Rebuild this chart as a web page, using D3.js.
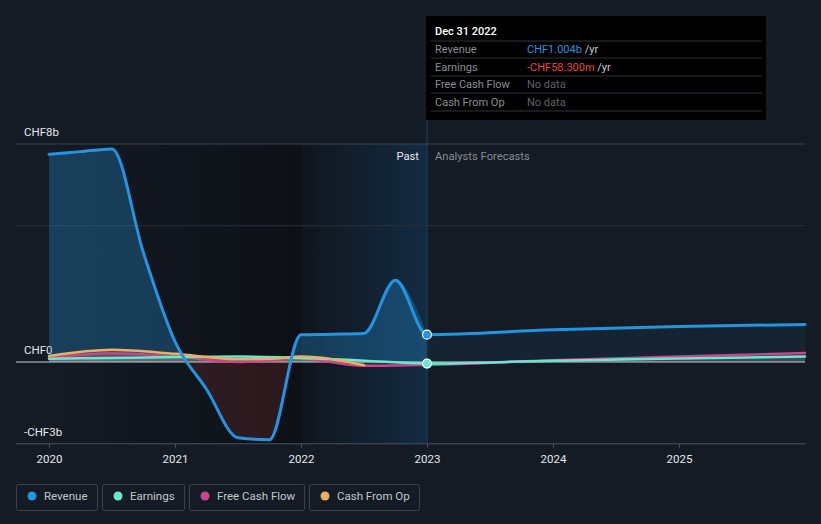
<!DOCTYPE html>
<html>
<head>
<meta charset="utf-8">
<script src="https://cdn.jsdelivr.net/npm/d3@7/dist/d3.min.js"></script>
<style>
html,body{margin:0;padding:0;background:#151b24;}
svg{display:block;font-family:Roboto,"Noto Sans",sans-serif;}
</style>
</head>
<body>
<svg id="chart" width="821" height="524"></svg>
<script>
// ---- data (CHF billions) ----
const revYears = [2020, 2020.25, 2020.5, 2020.75, 2021, 2021.25, 2021.5, 2021.75, 2022, 2022.25, 2022.5, 2022.75, 2023, 2024, 2025, 2026];
const revenue  = [7.62, 7.72, 7.82, 4.0, 0.75, -1.0, -2.78, -2.85, 1.0, 1.02, 1.05, 3.0, 1.004, 1.18, 1.3, 1.38];
const earnYears = [2020, 2020.5, 2021, 2021.5, 2022, 2022.5, 2023, 2024, 2025, 2026];
const earnings  = [0.12, 0.15, 0.18, 0.2, 0.15, 0.05, -0.058, 0.05, 0.13, 0.2];
const fcfYears = [2020, 2020.5, 2021, 2021.5, 2022, 2022.5, 2023, 2024, 2025, 2026];
const fcf      = [0.15, 0.32, 0.2, 0.0, 0.12, -0.14, -0.1, 0.06, 0.2, 0.33];
const cfoYears = [2020, 2020.5, 2021, 2021.5, 2021.75, 2022, 2022.5];
const cfo      = [0.22, 0.45, 0.3, 0.1, 0.12, 0.2, -0.12];
const xTickYears = [2020, 2021, 2022, 2023, 2024, 2025];
const yLabelValues = [8, 0, -3];
const yLabels = ["CHF8b", "CHF0", "-CHF3b"];
const gridValues = [8, 5];
const legendNames = ["Revenue", "Earnings", "Free Cash Flow", "Cash From Op"];
const colors = ["#2394df", "#6ee6cf", "#c4488a", "#e9b064"];
const tooltipDate = "Dec 31 2022";
const tooltipRows = [
  {label:"Revenue", value:"CHF1.004b", unit:" /yr", color:"#2394df"},
  {label:"Earnings", value:"-CHF58.300m", unit:" /yr", color:"#e64545"},
  {label:"Free Cash Flow", value:"No data", unit:"", color:"#5f646b"},
  {label:"Cash From Op", value:"No data", unit:"", color:"#5f646b"}
];
const pastEnd = 2023;
const highlightStart = 2022;

// ---- layout ----
const svg = d3.select("#chart");
const x = d3.scaleLinear().domain([2020, 2026]).range([49, 805]);
const y = d3.scaleLinear().domain([-3, 8]).range([443.75, 144]);
const defs = svg.append("defs");

const g1 = defs.append("linearGradient").attr("id","pastDark").attr("x1","0").attr("x2","1").attr("y1","0").attr("y2","0");
g1.append("stop").attr("offset","0").attr("stop-color","#000").attr("stop-opacity",0.02);
g1.append("stop").attr("offset","1").attr("stop-color","#000").attr("stop-opacity",0.38);
const g2 = defs.append("linearGradient").attr("id","hlBlue").attr("x1","0").attr("x2","1").attr("y1","0").attr("y2","0");
g2.append("stop").attr("offset","0").attr("stop-color","#1c6fb5").attr("stop-opacity",0.0);
g2.append("stop").attr("offset","1").attr("stop-color","#1c6fb5").attr("stop-opacity",0.25);

// background shading
svg.append("rect").attr("x", x(2020)).attr("y", y(8)).attr("width", x(highlightStart)-x(2020)).attr("height", y(-3)-y(8)).attr("fill","url(#pastDark)");
svg.append("rect").attr("x", x(highlightStart)).attr("y", y(8)).attr("width", x(pastEnd)-x(highlightStart)).attr("height", y(-3)-y(8)).attr("fill","#000").attr("opacity",0.2);
svg.append("rect").attr("x", x(highlightStart)).attr("y", y(8)).attr("width", x(pastEnd)-x(highlightStart)).attr("height", y(-3)-y(8)).attr("fill","url(#hlBlue)");

// gridlines
gridValues.forEach(v => {
  svg.append("line").attr("x1",16).attr("x2",805).attr("y1",y(v)).attr("y2",y(v)).attr("stroke", v===8?"#3a414b":"#2a3039").attr("stroke-width",1);
});

// y labels
yLabelValues.forEach((v,i) => {
  svg.append("text").attr("x",24).attr("y", y(v)-8).attr("fill","#e6e8eb").attr("font-size",11.5).text(yLabels[i]);
});

const curve = d3.curveMonotoneX;
function pts(xs, ys){ return xs.map((d,i)=>({x:d, v:ys[i]})); }
const revPts = pts(revYears, revenue);
const revPast = revPts.filter(d=>d.x<=pastEnd);
const revFut = revPts.filter(d=>d.x>=pastEnd);

// revenue areas
const clipPos = defs.append("clipPath").attr("id","pos");
clipPos.append("rect").attr("x",0).attr("y",0).attr("width",821).attr("height",y(0));
const clipNeg = defs.append("clipPath").attr("id","neg");
clipNeg.append("rect").attr("x",0).attr("y",y(0)).attr("width",821).attr("height",524-y(0));

const area = d3.area().x(d=>x(d.x)).y0(y(0)).y1(d=>y(d.v)).curve(curve);
const line = d3.line().x(d=>x(d.x)).y(d=>y(d.v)).curve(curve);

svg.append("path").attr("d", area(revPast)).attr("fill","#2394df").attr("opacity",0.3).attr("clip-path","url(#pos)");
svg.append("path").attr("d", area(revPast)).attr("fill","#e64545").attr("opacity",0.14).attr("clip-path","url(#neg)");
svg.append("path").attr("d", area(revFut)).attr("fill","#2394df").attr("opacity",0.08);

// small series areas
const small = [
  {p: pts(fcfYears, fcf), c: colors[2]},
  {p: pts(earnYears, earnings), c: colors[1]},
  {p: pts(cfoYears, cfo), c: colors[3]}
];
small.forEach(s => {
  svg.append("path").attr("d", area(s.p)).attr("fill", s.c).attr("opacity",0.18);
});

// zero line
svg.append("line").attr("x1",16).attr("x2",805).attr("y1",y(0)).attr("y2",y(0)).attr("stroke","#c9ccd1").attr("stroke-width",1.2);

// small series lines
small.forEach(s => {
  svg.append("path").attr("d", line(s.p)).attr("fill","none").attr("stroke", s.c).attr("stroke-width",2.5).attr("stroke-linecap","round");
});

// revenue line
svg.append("path").attr("d", line(revPts)).attr("fill","none").attr("stroke", colors[0]).attr("stroke-width",3).attr("stroke-linecap","round");

// x axis
svg.append("line").attr("x1",16).attr("x2",805).attr("y1",y(-3)).attr("y2",y(-3)).attr("stroke","#4a5059").attr("stroke-width",1);
const xAxis = d3.axisBottom(x).tickValues(xTickYears).tickFormat(d3.format("d")).tickSize(4).tickPadding(7);
const ax = svg.append("g").attr("transform",`translate(0,${y(-3)})`).call(xAxis);
ax.select(".domain").remove();
ax.selectAll(".tick line").attr("stroke","#4a5059");
ax.selectAll(".tick text").attr("fill","#e6e8eb").attr("font-size",11.5).attr("font-family","Roboto, sans-serif");

// divider line at past end
svg.append("line").attr("x1",x(pastEnd)).attr("x2",x(pastEnd)).attr("y1",16).attr("y2",y(-3)).attr("stroke","#1f3a55").attr("stroke-width",1.2);

// Past / Forecast labels
svg.append("text").attr("x", x(pastEnd)-8).attr("y",160).attr("text-anchor","end").attr("fill","#e6e8eb").attr("font-size",11.2).text("Past");
svg.append("text").attr("x", x(pastEnd)+8).attr("y",160).attr("fill","#858a92").attr("font-size",11.2).text("Analysts Forecasts");

// markers
svg.append("circle").attr("cx",x(pastEnd)).attr("cy",y(revenue[revYears.indexOf(pastEnd)])).attr("r",4.5).attr("fill",colors[0]).attr("stroke","#fff").attr("stroke-width",1.2);
svg.append("circle").attr("cx",x(pastEnd)).attr("cy",y(earnings[earnYears.indexOf(pastEnd)])).attr("r",4.5).attr("fill",colors[1]).attr("stroke","#fff").attr("stroke-width",1.2);

// tooltip
const tt = svg.append("g");
tt.append("rect").attr("x",426).attr("y",16).attr("width",340).attr("height",104).attr("fill","#000");
tt.append("text").attr("x",435).attr("y",35).attr("fill","#fff").attr("font-size",11).attr("font-weight",500).text(tooltipDate);
[41,58,76,93,111].forEach(yy=>{
  tt.append("line").attr("x1",431).attr("x2",762).attr("y1",yy).attr("y2",yy).attr("stroke","#2e3238").attr("stroke-width",1);
});
tooltipRows.forEach((r,i)=>{
  const by = 53 + i*17.5;
  tt.append("text").attr("x",435).attr("y",by).attr("fill","#8a8f97").attr("font-size",11).text(r.label);
  const t = tt.append("text").attr("x",527).attr("y",by).attr("font-size",11);
  t.append("tspan").attr("fill",r.color).text(r.value);
  if (r.unit) t.append("tspan").attr("fill","#c9ccd1").text(r.unit);
});

// legend
const legendBoxes = [[16,81],[102,82],[189,115],[309,110]];
legendNames.forEach((n,i)=>{
  const [bx,bw] = legendBoxes[i];
  const lg = svg.append("g");
  lg.append("rect").attr("x",bx+0.5).attr("y",484.5).attr("width",bw).attr("height",26).attr("rx",2).attr("fill","none").attr("stroke","#3a414b");
  lg.append("circle").attr("cx",bx+16).attr("cy",496).attr("r",4.5).attr("fill",colors[i]);
  lg.append("text").attr("x",bx+28).attr("y",500).attr("fill","#c3c7cd").attr("font-size",11.5).text(n);
});
</script>
</body>
</html>
